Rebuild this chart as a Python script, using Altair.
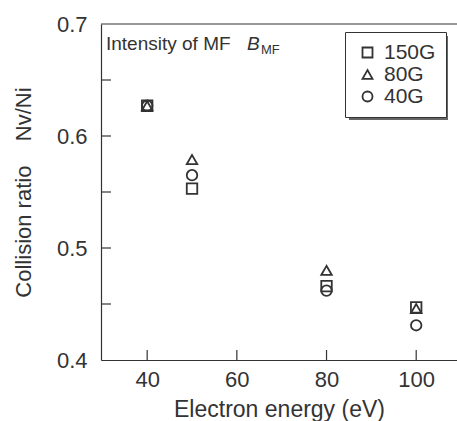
import altair as alt
import pandas as pd

energy = [40, 50, 80, 100]
b150 = [0.627, 0.553, 0.466, 0.447]
b80 = [0.627, 0.579, 0.480, 0.446]
b40 = [0.627, 0.565, 0.462, 0.431]
series = ["150G", "80G", "40G"]
shapes = ["square", "triangle-up", "circle"]
y_labels = [0.4, 0.5, 0.6, 0.7]
y_ticks = [0.45, 0.5, 0.55, 0.6, 0.65]
x_ticks = [40, 60, 80, 100]

rows = []
for s, vals in zip(series, [b150, b80, b40]):
    for e, v in zip(energy, vals):
        rows.append({"energy": e, "ratio": v, "field": s})
df = pd.DataFrame(rows)

W, H = 356, 336
FONT = "Liberation Sans"
INK = "#333333"
xscale = alt.Scale(domain=[29.7, 109.1], nice=False, zero=False)
yscale = alt.Scale(domain=[0.4, 0.7], nice=False, zero=False)

xaxis = alt.Axis(values=x_ticks, title="Electron energy (eV)", ticks=False,
                 labelPadding=9, titlePadding=8, grid=False,
                 labelFontSize=22, titleFontSize=23)
yaxis = alt.Axis(values=y_labels, format=".1f",
                 title="Collision ratio\u00a0\u00a0\u00a0\u00a0Nv/Ni", ticks=False,
                 labelPadding=14, titlePadding=21, grid=False,
                 labelFontSize=22, titleFontSize=22)

shadow = alt.Chart(pd.DataFrame({"a": [0]})).mark_rect(color="#666666").encode(
    x=alt.value(248), x2=alt.value(347), y=alt.value(12), y2=alt.value(96)
)

points = alt.Chart(df).mark_point(filled=False, strokeWidth=1.8, color=INK, opacity=1).encode(
    x=alt.X("energy:Q", scale=xscale, axis=xaxis),
    y=alt.Y("ratio:Q", scale=yscale, axis=yaxis),
    shape=alt.Shape("field:N", scale=alt.Scale(domain=series, range=shapes),
                    legend=alt.Legend(orient="none", legendX=244, legendY=8, title=None,
                                      fillColor="white", strokeColor=INK, padding=10,
                                      symbolOffset=2, labelOffset=6, rowPadding=0,
                                      labelFontSize=21, labelFont=FONT, labelColor=INK,
                                      symbolSize=100, symbolStrokeColor=INK,
                                      symbolStrokeWidth=1.8, symbolFillColor="white")),
    size=alt.value(110),
)

ytick = alt.Chart(pd.DataFrame({"v": y_ticks})).mark_rule(color=INK, strokeWidth=1.2).encode(
    y=alt.Y("v:Q", scale=yscale, axis=yaxis), x=alt.value(0), x2=alt.value(10)
)
xtick = alt.Chart(pd.DataFrame({"v": x_ticks})).mark_rule(color=INK, strokeWidth=1.2).encode(
    x=alt.X("v:Q", scale=xscale, axis=xaxis), y=alt.value(H), y2=alt.value(H - 10)
)
top = alt.Chart(pd.DataFrame({"a": [0]})).mark_rule(color=INK, strokeWidth=1.2).encode(
    x=alt.value(0), x2=alt.value(W), y=alt.value(0)
)

t1 = alt.Chart(pd.DataFrame({"t": ["Intensity of MF"]})).mark_text(
    align="left", baseline="alphabetic", fontSize=19, font=FONT, color=INK
).encode(text="t:N", x=alt.value(5), y=alt.value(26))
t2 = alt.Chart(pd.DataFrame({"t": ["B"]})).mark_text(
    align="left", baseline="alphabetic", fontSize=19, font=FONT, color=INK, fontStyle="italic"
).encode(text="t:N", x=alt.value(146), y=alt.value(26))
t3 = alt.Chart(pd.DataFrame({"t": ["MF"]})).mark_text(
    align="left", baseline="alphabetic", fontSize=13, font=FONT, color=INK
).encode(text="t:N", x=alt.value(160), y=alt.value(30))

chart = alt.layer(points, shadow, ytick, xtick, top, t1, t2, t3).properties(
    width=W, height=H,
    autosize=alt.AutoSizeParams(type="none"),
    padding={"left": 101, "top": 24, "right": 0, "bottom": 61},
).configure_view(stroke=None).configure_axis(
    labelFont=FONT, titleFont=FONT, labelColor=INK, titleColor=INK,
    titleFontWeight="normal", domainColor=INK, domainWidth=1.2
)

chart.save("out.html", embed_options={"renderer": "svg", "actions": False})
